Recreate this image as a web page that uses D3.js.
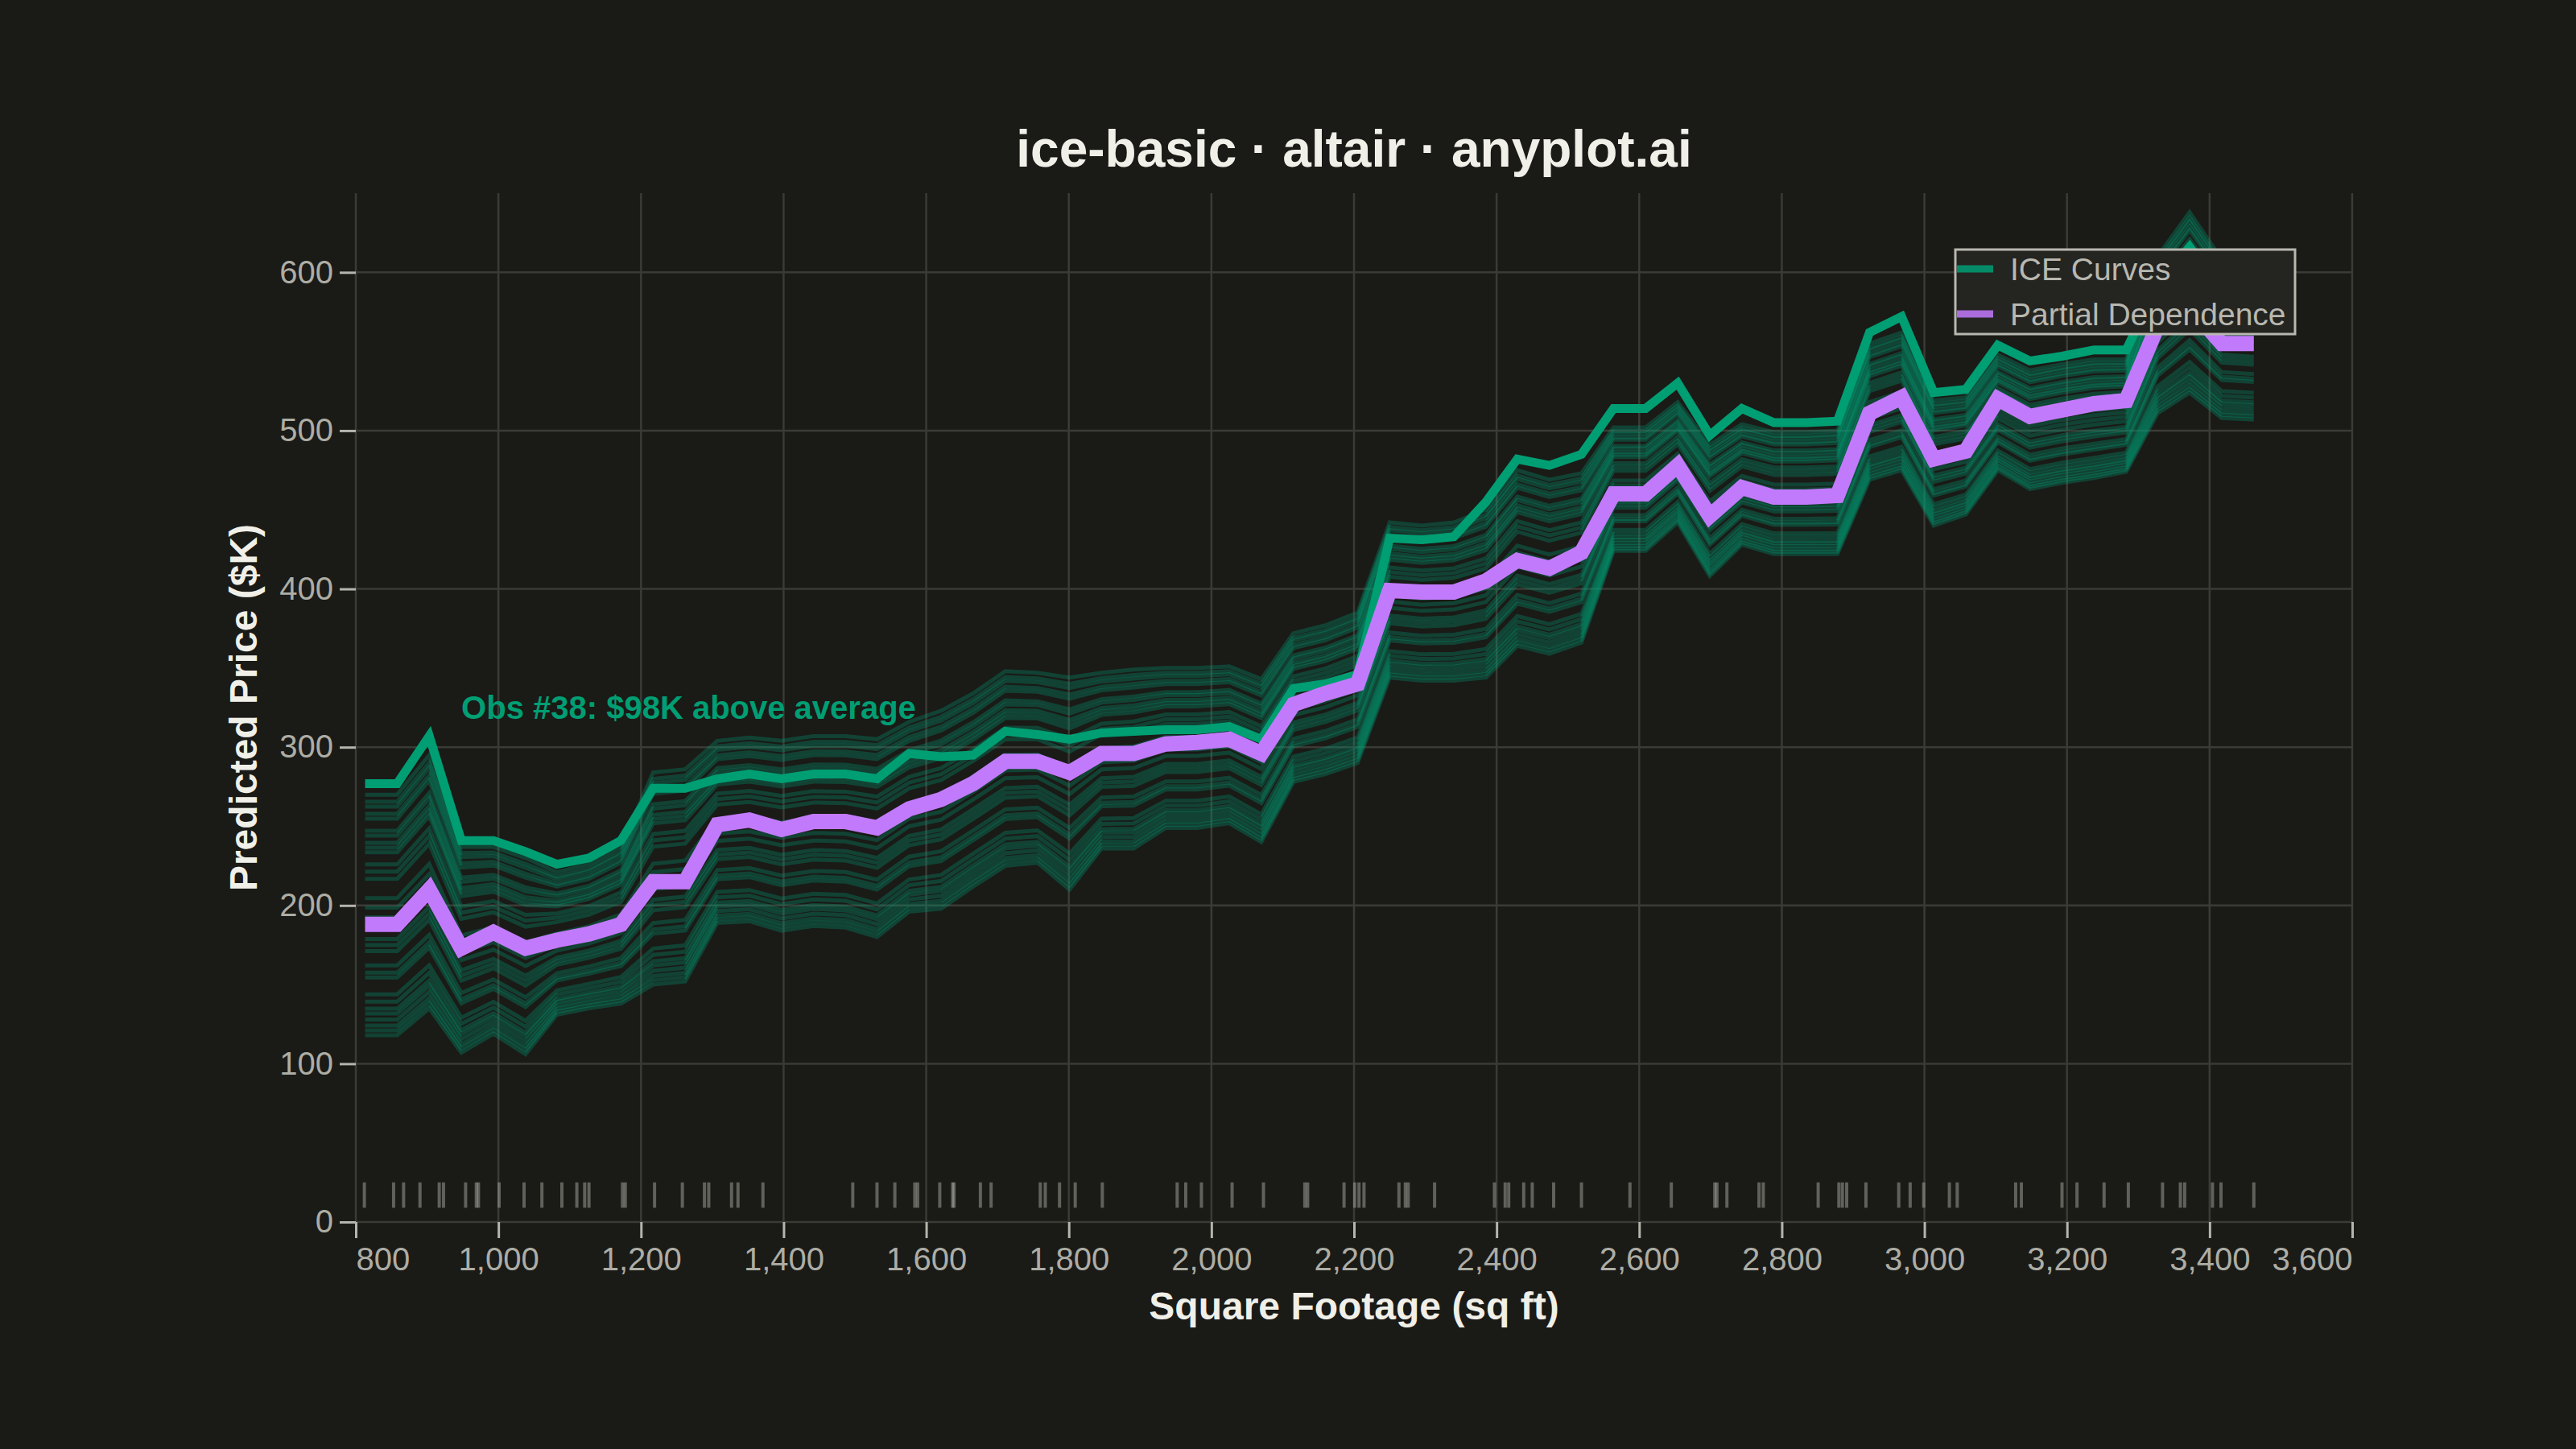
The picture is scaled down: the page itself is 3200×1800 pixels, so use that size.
<!DOCTYPE html>
<html>
<head>
<meta charset="utf-8">
<script src="https://cdn.jsdelivr.net/npm/d3@7"></script>
<style>
  html, body { margin: 0; padding: 0; background: #1a1a17; }
  svg { display: block; }
  text { font-family: "Liberation Sans", Arial, Helvetica, sans-serif; }
</style>
</head>
<body>
<svg id="chart"></svg>
<script>
// ---- data ----
var sqftGrid = [813, 858, 903, 948, 993, 1038, 1082, 1127, 1172, 1217,
                1262, 1307, 1352, 1397, 1442, 1487, 1531, 1576, 1621, 1666,
                1711, 1756, 1801, 1846, 1891, 1936, 1980, 2025, 2070, 2115,
                2160, 2205, 2250, 2295, 2340, 2385, 2429, 2474, 2519, 2564,
                2609, 2654, 2699, 2744, 2789, 2834, 2878, 2923, 2968, 3013,
                3058, 3103, 3148, 3193, 3238, 3283, 3327, 3372, 3417, 3462];

// partial dependence (average of the ICE curves), $K
var pdPrice = [188, 188, 210, 173, 183, 173, 178, 182, 188, 215,
               215, 251, 254, 248, 253, 253, 249, 261, 267, 277,
               291, 291, 284, 296, 296, 302, 303, 305, 296, 327,
               334, 340, 399, 398, 398, 405, 418, 413, 423, 460,
               460, 478, 446, 464, 458, 458, 459, 511, 521, 482,
               487, 520, 509, 513, 517, 519, 566, 578, 555, 555];

// highlighted observation #38
var obs38Price = [277, 277, 307, 241, 241, 234, 226, 230, 241, 274,
                  274, 280, 283, 280, 283, 283, 280, 296, 294, 295,
                  310, 308, 305, 309, 310, 311, 311, 313, 305, 337,
                  340, 346, 432, 431, 433, 455, 482, 478, 485, 514,
                  514, 530, 497, 514, 505, 505, 506, 562, 572, 524,
                  526, 554, 544, 547, 551, 551, 592, 616, 588, 588];

// upper and lower edge of the ICE bundle
var iceHigh = [270, 270, 295, 237, 237, 230, 221, 226, 237, 284,
               286, 304, 306, 304, 307, 307, 305, 316, 323, 334,
               348, 347, 344, 347, 349, 350, 350, 351, 343, 372,
               377, 385, 442, 440, 442, 450, 475, 469, 473, 502,
               502, 518, 491, 504, 499, 499, 500, 555, 562, 519,
               521, 548, 538, 542, 545, 545, 610, 638, 608, 606];
var iceLow = [118, 118, 135, 107, 119, 106, 131, 135, 138, 150,
              152, 189, 190, 184, 187, 186, 180, 196, 198, 212,
              225, 227, 210, 236, 236, 249, 249, 252, 240, 278,
              283, 290, 344, 342, 342, 344, 364, 359, 366, 424,
              424, 442, 408, 428, 422, 422, 422, 469, 475, 440,
              447, 475, 463, 467, 470, 474, 511, 524, 508, 507];

// where each ICE curve sits inside the bundle (0 = bottom, 1 = top)
var iceShare = [1.0, 0.97, 0.95, 0.92, 0.90,
                0.85, 0.83, 0.80, 0.78, 0.76,
                0.71, 0.68, 0.65,
                0.57, 0.53, 0.49, 0.45,
                0.40, 0.375, 0.35,
                0.29, 0.26, 0.24,
                0.17, 0.14, 0.11, 0.09, 0.065, 0.04, 0.02, 0.0];

// observed square footage (rug)
var rugSqft = [812, 853, 867, 890, 917, 923, 954, 969, 972, 1001,
               1036, 1061, 1089, 1110, 1121, 1127, 1174, 1178, 1219, 1258,
               1289, 1295, 1327, 1336, 1371, 1497, 1531, 1556, 1584, 1588,
               1619, 1637, 1639, 1676, 1691,
               1760, 1767, 1787, 1809, 1847, 1952, 1964, 1986, 2029, 2073,
               2131, 2135, 2186, 2201, 2207, 2214, 2263, 2272, 2276, 2313,
               2397, 2412, 2417, 2438, 2450, 2480, 2519, 2587, 2645,
               2706, 2709, 2723, 2768, 2774, 2851, 2880, 2885, 2891, 2918,
               2964, 2980, 2999, 3035, 3046, 3128, 3136, 3193, 3214, 3252,
               3286, 3334, 3359, 3365, 3404, 3416, 3462];

var xTicks = [800, 1000, 1200, 1400, 1600, 1800, 2000, 2200, 2400, 2600, 2800, 3000, 3200, 3400, 3600];
var yTicks = [0, 100, 200, 300, 400, 500, 600];

var legendLabels = ["ICE Curves", "Partial Dependence"];
var legendColors = ["#009E73", "#C27AFC"];

var annotText = "Obs #38: $98K above average";
var annotSqft = 948, annotPrice = 318;
var rugBase = 9, rugTop = 25;

// ---- layout ----
var width = 3200, height = 1800;
var margin = {top: 240, right: 278, bottom: 282, left: 442};
var plotW = width - margin.left - margin.right;
var plotH = height - margin.top - margin.bottom;

var bg = "#1a1a17";
var gridColor = "#3b3b36";
var tickColor = "#b5b5ad";
var labelColor = "#adada5";
var inkColor = "#f0efe8";
var green = "#009E73";
var purple = "#C27AFC";

var svg = d3.select("#chart").attr("width", width).attr("height", height);
svg.append("rect").attr("width", width).attr("height", height).attr("fill", bg);

var x = d3.scaleLinear().domain([800, 3600]).range([0, plotW]);
var y = d3.scaleLinear().domain([0, 650]).range([plotH, 0]);

var g = svg.append("g").attr("transform", "translate(" + margin.left + "," + margin.top + ")");

// grid
g.append("g").selectAll("line").data(xTicks).join("line")
    .attr("x1", function(d) { return x(d); })
    .attr("x2", function(d) { return x(d); })
    .attr("y1", 0).attr("y2", plotH)
    .attr("stroke", gridColor).attr("stroke-width", 2.5);
g.append("g").selectAll("line").data(yTicks).join("line")
    .attr("x1", 0).attr("x2", plotW)
    .attr("y1", function(d) { return y(d); })
    .attr("y2", function(d) { return y(d); })
    .attr("stroke", gridColor).attr("stroke-width", 2.5);

// rug
g.append("g").selectAll("line").data(rugSqft).join("line")
    .attr("x1", function(d) { return x(d); })
    .attr("x2", function(d) { return x(d); })
    .attr("y1", y(rugTop)).attr("y2", y(rugBase))
    .attr("stroke", "#b8b8b0").attr("stroke-opacity", 0.45).attr("stroke-width", 4);

// curves
var line = d3.line()
    .x(function(d) { return x(d[0]); })
    .y(function(d) { return y(d[1]); });

var iceCurves = iceShare.map(function(q) {
    return sqftGrid.map(function(s, k) {
        return [s, iceLow[k] + q * (iceHigh[k] - iceLow[k])];
    });
});

g.append("g").selectAll("path").data(iceCurves).join("path")
    .attr("d", line)
    .attr("fill", "none")
    .attr("stroke", green)
    .attr("stroke-width", 5)
    .attr("stroke-opacity", 0.31)
    .attr("stroke-linejoin", "miter");

g.append("path")
    .datum(sqftGrid.map(function(s, k) { return [s, obs38Price[k]]; }))
    .attr("d", line)
    .attr("fill", "none")
    .attr("stroke", green)
    .attr("stroke-width", 11)
    .attr("stroke-linejoin", "miter");

g.append("path")
    .datum(sqftGrid.map(function(s, k) { return [s, pdPrice[k]]; }))
    .attr("d", line)
    .attr("fill", "none")
    .attr("stroke", purple)
    .attr("stroke-width", 19)
    .attr("stroke-linejoin", "miter");

// annotation
g.append("text")
    .attr("x", x(annotSqft))
    .attr("y", y(annotPrice))
    .attr("fill", green)
    .attr("font-size", 40)
    .attr("font-weight", "bold")
    .text(annotText);

// axes
var xAxis = g.append("g")
    .attr("transform", "translate(0," + plotH + ")")
    .call(d3.axisBottom(x).tickValues(xTicks).tickFormat(d3.format(",")).tickSize(20).tickPadding(12));
xAxis.select(".domain").remove();
xAxis.attr("font-family", null).attr("font-size", null);
xAxis.selectAll(".tick line").attr("stroke", tickColor).attr("stroke-width", 3);
xAxis.selectAll(".tick text")
    .attr("fill", labelColor)
    .attr("font-size", 40)
    .attr("text-anchor", function(d, i) {
        if (i === 0) return "start";
        if (i === xTicks.length - 1) return "end";
        return "middle";
    });

var yAxis = g.append("g")
    .call(d3.axisLeft(y).tickValues(yTicks).tickFormat(d3.format(",")).tickSize(20).tickPadding(8));
yAxis.select(".domain").remove();
yAxis.attr("font-family", null).attr("font-size", null);
yAxis.selectAll(".tick line").attr("stroke", tickColor).attr("stroke-width", 3);
yAxis.selectAll(".tick text").attr("fill", labelColor).attr("font-size", 40);

// axis titles
svg.append("text")
    .attr("x", margin.left + plotW / 2)
    .attr("y", 1639)
    .attr("text-anchor", "middle")
    .attr("fill", inkColor)
    .attr("font-size", 48)
    .attr("font-weight", "bold")
    .text("Square Footage (sq ft)");

svg.append("text")
    .attr("transform", "translate(319," + (margin.top + plotH / 2) + ") rotate(-90)")
    .attr("text-anchor", "middle")
    .attr("fill", inkColor)
    .attr("font-size", 48)
    .attr("font-weight", "bold")
    .text("Predicted Price ($K)");

// legend
var legend = svg.append("g").attr("transform", "translate(2429,310)");
legend.append("rect")
    .attr("width", 422).attr("height", 105)
    .attr("fill", "#242421")
    .attr("stroke", "#b8b8b0").attr("stroke-width", 3);
var entry = legend.selectAll("g.entry").data(legendLabels).join("g")
    .attr("class", "entry")
    .attr("transform", function(d, i) { return "translate(0," + (24 + i * 56) + ")"; });
entry.append("line")
    .attr("x1", 2).attr("x2", 47)
    .attr("stroke", function(d, i) { return legendColors[i]; })
    .attr("stroke-opacity", 0.85)
    .attr("stroke-width", 9);
entry.append("text")
    .attr("x", 68)
    .attr("dy", "0.35em")
    .attr("fill", "#b8b8b0")
    .attr("font-size", 39)
    .text(function(d) { return d; });

// title
svg.append("text")
    .attr("x", margin.left + plotW / 2)
    .attr("y", 207)
    .attr("text-anchor", "middle")
    .attr("fill", inkColor)
    .attr("font-size", 64)
    .attr("font-weight", "bold")
    .text("ice-basic \u00b7 altair \u00b7 anyplot.ai");
</script>
</body>
</html>
